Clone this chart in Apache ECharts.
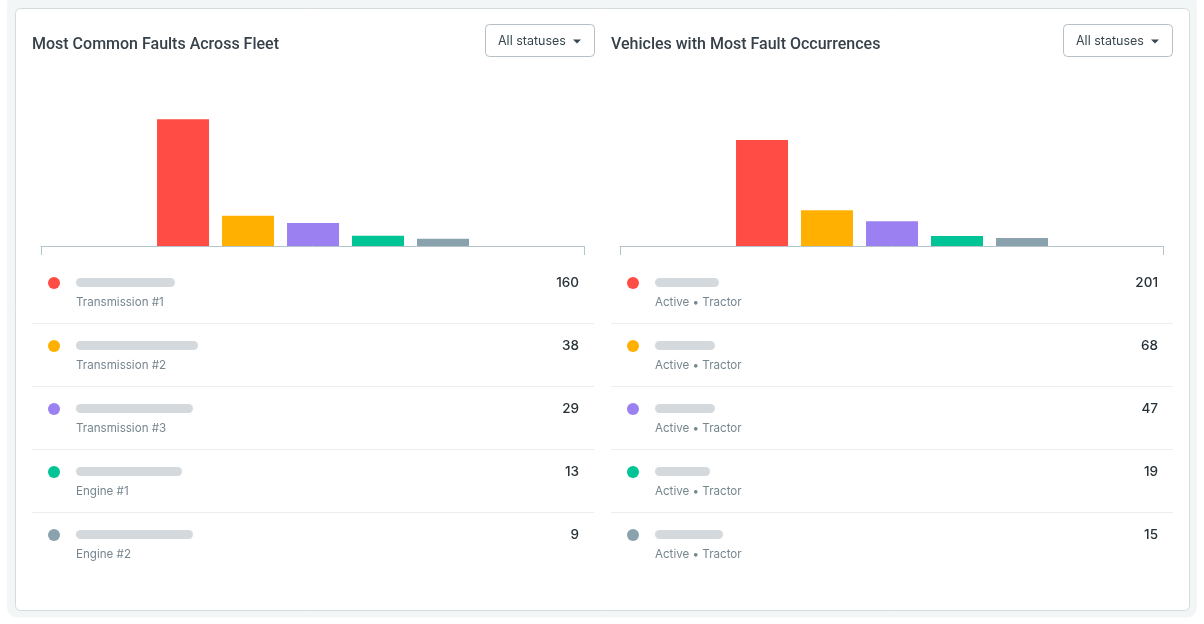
<!DOCTYPE html>
<html><head><meta charset="utf-8">
<script src="https://cdn.jsdelivr.net/npm/echarts@6/dist/echarts.min.js"></script>
<style>html,body{margin:0;padding:0;background:#fff}#c{width:1204px;height:624px}</style>
</head><body><div id="c"></div>
<script>
const leftTitle = "Most Common Faults Across Fleet";
const rightTitle = "Vehicles with Most Fault Occurrences";
const filterLabel = "All statuses";
const leftLabels = ["Transmission #1","Transmission #2","Transmission #3","Engine #1","Engine #2"];
const leftValues = [160,38,29,13,9];
const rightLabels = ["Active • Tractor","Active • Tractor","Active • Tractor","Active • Tractor","Active • Tractor"];
const rightValues = [201,68,47,19,15];
const palette = ["#ff4d45","#ffb000","#9b80f2","#00c495","#8aa2ae"];
const leftMaskWidths = [99,122,117,106,117];
const rightMaskWidths = [64,60,60,55,68];

const FONT = "Inter, 'Noto Sans', sans-serif";
const graphic = [
  {type:'rect',silent:true,z:-10,shape:{x:7,y:-6,width:1190,height:623.5,r:10},style:{fill:'#f3f6f6'}},
  {type:'rect',silent:true,z:-9,shape:{x:15.5,y:8.5,width:1174,height:602,r:5},style:{fill:'#fff',stroke:'#d5dcdc',lineWidth:1}}
];
function panel(x0, labels, values, widths, btnX, btnW, valueRight){
  graphic.push({type:'rect',silent:true,shape:{x:btnX+.5,y:24.5,width:btnW,height:32,r:4},style:{fill:'#fff',stroke:'#b4c0c5',lineWidth:1}});
  graphic.push({type:'text',silent:true,style:{x:btnX+13,y:41.5,text:filterLabel,font:"400 12.5px "+FONT,fill:'#37474f',textVerticalAlign:'middle'}});
  const cx = btnX+88;
  graphic.push({type:'polygon',silent:true,shape:{points:[[cx,39.5],[cx+8,39.5],[cx+4,43.5]]},style:{fill:'#37474f'}});
  labels.forEach((lab,i)=>{
    const y = 283+63*i;
    graphic.push({type:'circle',silent:true,shape:{cx:x0+22,cy:y,r:6},style:{fill:palette[i]}});
    graphic.push({type:'rect',silent:true,shape:{x:x0+44,y:y-5,width:widths[i],height:9,r:4.5},style:{fill:'#d3d9dc'}});
    graphic.push({type:'text',silent:true,style:{x:x0+44,y:y+20,text:lab,font:"400 11.6px "+FONT,fill:'#76868f',textVerticalAlign:'middle'}});
    graphic.push({type:'text',silent:true,style:{x:valueRight,y:y,text:String(values[i]),font:"500 13.5px "+FONT,fill:'#263238',textAlign:'right',textVerticalAlign:'middle'}});
    if(i<labels.length-1) graphic.push({type:'rect',silent:true,shape:{x:x0,y:y+40,width:562,height:1},style:{fill:'#ebeeef'}});
  });
}
panel(32,leftLabels,leftValues,leftMaskWidths,485,109,579);
panel(611,rightLabels,rightValues,rightMaskWidths,1063,109,1158);

const XMIN=-1.185, XMAX=7.169;
function xAxis(i){return {gridIndex:i,type:'value',min:XMIN,max:XMAX,splitLine:{show:false},axisLabel:{show:false},
  axisLine:{show:true,onZero:false,lineStyle:{color:'#b4c4cc',width:1}},
  axisTick:{show:true,customValues:[XMIN,XMAX],length:9,lineStyle:{color:'#b4c4cc',width:1}}};}
function yAxis(i,max){return {gridIndex:i,type:'value',min:0,max:max,show:false};}
function bars(i,vals){return {type:'bar',xAxisIndex:i,yAxisIndex:i,barWidth:52,silent:true,
  data:vals.map((v,k)=>({value:[k+1,v],itemStyle:{color:palette[k]}}))};}

const chart = echarts.init(document.getElementById('c'),null,{renderer:'canvas'});
chart.setOption({
  animation:false,
  backgroundColor:'#fff',
  title:[
    {text:leftTitle,left:27,top:31.5,textStyle:{fontFamily:"Roboto, sans-serif",fontSize:16,fontWeight:500,color:'#37414a'}},
    {text:rightTitle,left:606,top:31.5,textStyle:{fontFamily:"Roboto, sans-serif",fontSize:16,fontWeight:500,color:'#37414a'}}
  ],
  grid:[
    {left:41,top:70,width:543,height:176},
    {left:620,top:70,width:543,height:176}
  ],
  xAxis:[xAxis(0),xAxis(1)],
  yAxis:[yAxis(0,222),yAxis(1,334)],
  series:[bars(0,leftValues),bars(1,rightValues)],
  graphic:graphic
});
</script></body></html>
